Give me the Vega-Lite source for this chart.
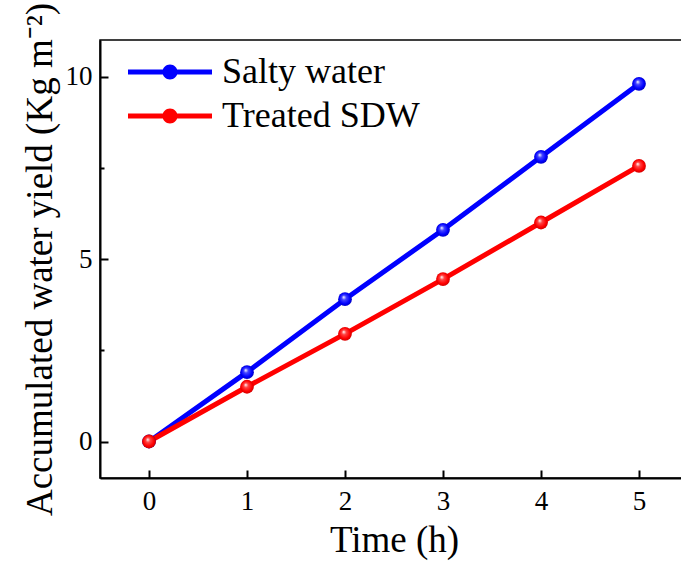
{
  "$schema": "https://vega.github.io/schema/vega-lite/v6.json",
  "width": 588,
  "height": 438,
  "autosize": {"type": "none"},
  "padding": {"left": 100, "top": 40, "right": 0, "bottom": 89},
  "background": "white",
  "config": {
    "font": "Liberation Serif",
    "view": {"stroke": "black", "strokeWidth": 1.5},
    "axis": {
      "domainColor": "black",
      "domainWidth": 2,
      "tickColor": "black",
      "tickWidth": 2,
      "grid": false,
      "labelFont": "Liberation Serif",
      "titleFont": "Liberation Serif",
      "labelColor": "black",
      "titleColor": "black",
      "labelFontSize": 27,
      "titleFontSize": 37,
      "titleFontWeight": "normal"
    }
  },
  "data": {
    "values": [
      {"time": 0, "yield": 0, "series": "Salty water"},
      {"time": 1, "yield": 1.9, "series": "Salty water"},
      {"time": 2, "yield": 3.9, "series": "Salty water"},
      {"time": 3, "yield": 5.8, "series": "Salty water"},
      {"time": 4, "yield": 7.8, "series": "Salty water"},
      {"time": 5, "yield": 9.8, "series": "Salty water"},
      {"time": 0, "yield": 0, "series": "Treated SDW"},
      {"time": 1, "yield": 1.5, "series": "Treated SDW"},
      {"time": 2, "yield": 2.95, "series": "Treated SDW"},
      {"time": 3, "yield": 4.45, "series": "Treated SDW"},
      {"time": 4, "yield": 6.0, "series": "Treated SDW"},
      {"time": 5, "yield": 7.55, "series": "Treated SDW"}
    ]
  },
  "encoding": {
    "x": {
      "field": "time",
      "type": "quantitative",
      "scale": {"domain": [-0.5, 5.5], "nice": false, "zero": false},
      "axis": {
        "title": "Time (h)",
        "values": [0, 0.5, 1, 1.5, 2, 2.5, 3, 3.5, 4, 4.5, 5],
        "format": "d",
        "labelExpr": "datum.value % 1 === 0 ? datum.label : ''",
        "tickSize": {"condition": {"test": "datum.value % 1 !== 0", "value": -4}, "value": -8},
        "labelPadding": 18,
        "titlePadding": 8
      }
    },
    "y": {
      "field": "yield",
      "type": "quantitative",
      "scale": {"domain": [-1, 11], "nice": false, "zero": false},
      "axis": {
        "title": "Accumulated water yield (Kg m⁻²)",
        "values": [0, 2.5, 5, 7.5, 10],
        "format": "d",
        "labelExpr": "datum.value % 1 === 0 ? datum.label : ''",
        "tickSize": {"condition": {"test": "datum.value % 1 !== 0", "value": -4}, "value": -8},
        "labelPadding": 16,
        "titlePadding": 6
      }
    }
  },
  "layer": [
    {
      "mark": {"type": "line", "strokeWidth": 5},
      "encoding": {
        "color": {
          "field": "series",
          "type": "nominal",
          "scale": {"domain": ["Salty water", "Treated SDW"], "range": ["#0000ff", "#ff0000"]},
          "legend": {
            "title": null,
            "orient": "none",
            "legendX": 50,
            "legendY": 12,
            "symbolType": "M-2.1,-0.125H2.1V0.125H-2.1Z M-0.375,0 A0.375,0.375 0 1,1 0.375,0 A0.375,0.375 0 1,1 -0.375,0 Z",
            "symbolSize": 1600,
            "symbolStrokeWidth": 0,
            "labelFont": "Liberation Serif",
            "labelFontSize": 36,
            "labelColor": "black",
            "labelOffset": 32,
            "labelLimit": 500,
            "rowPadding": 6,
            "encode": {
              "symbols": {
                "update": {
                  "fill": {"scale": "color", "field": "value"},
                  "fillOpacity": {"value": 1},
                  "strokeWidth": {"value": 0}
                }
              }
            }
          }
        }
      }
    },
    {
      "transform": [{"filter": "datum.series === 'Salty water'"}],
      "mark": {
        "type": "point",
        "filled": true,
        "size": 190,
        "opacity": 1,
        "color": {
          "gradient": "radial",
          "x1": 0.4, "y1": 0.35, "r1": 0,
          "x2": 0.5, "y2": 0.5, "r2": 0.55,
          "stops": [
            {"offset": 0, "color": "#ffffff"},
            {"offset": 0.3, "color": "#4444ff"},
            {"offset": 0.7, "color": "#0000ff"},
            {"offset": 1, "color": "#0000b0"}
          ]
        }
      }
    },
    {
      "transform": [{"filter": "datum.series === 'Treated SDW'"}],
      "mark": {
        "type": "point",
        "filled": true,
        "size": 190,
        "opacity": 1,
        "color": {
          "gradient": "radial",
          "x1": 0.4, "y1": 0.35, "r1": 0,
          "x2": 0.5, "y2": 0.5, "r2": 0.55,
          "stops": [
            {"offset": 0, "color": "#ffffff"},
            {"offset": 0.3, "color": "#ff4444"},
            {"offset": 0.7, "color": "#ff0000"},
            {"offset": 1, "color": "#c00000"}
          ]
        }
      }
    }
  ]
}
